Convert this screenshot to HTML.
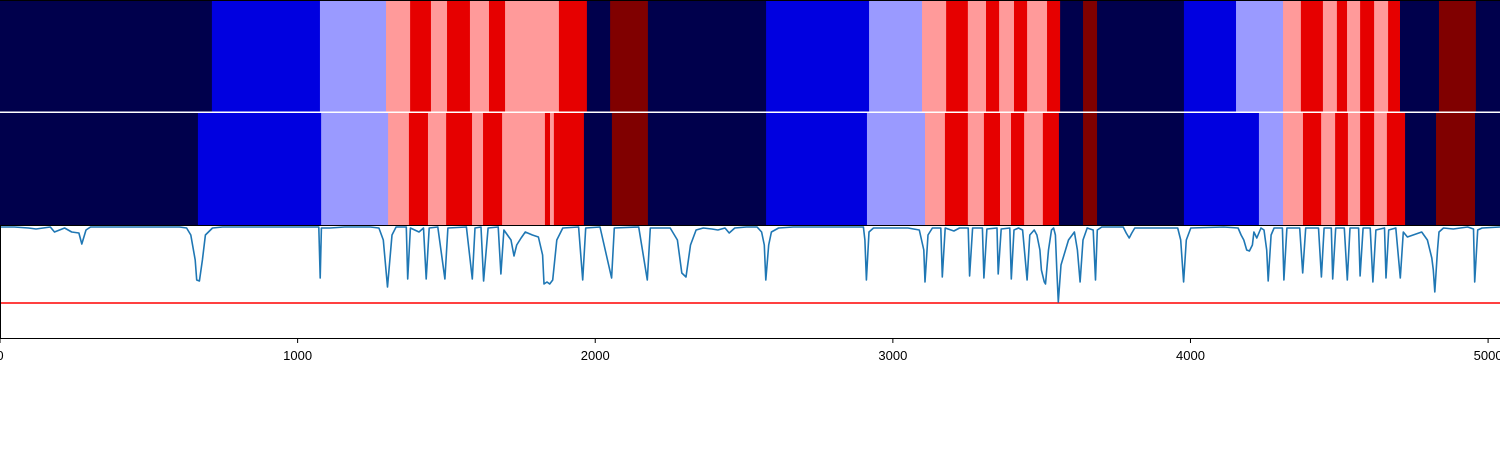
<!DOCTYPE html>
<html><head><meta charset="utf-8"><style>
html,body{margin:0;padding:0;background:#fff;}
svg{display:block;font-family:"Liberation Sans",sans-serif;}
</style></head><body>
<svg id="chart" width="1500" height="450" viewBox="0 0 1500 450" xmlns="http://www.w3.org/2000/svg"></svg>
<script>
// ---- data ----
const xTicks = [0, 1000, 2000, 3000, 4000, 5000];
const colorLabels = ["#00004c", "#0000e0", "#9a9aff", "#ff9a9a", "#e60000", "#800000"];
const topBounds = [0,712,1075,1297,1378,1448,1502,1579,1643,1697,1878,1972,2050,2177,2574,2920,3098,3179,3252,3313,3357,3407,3451,3518,3562,3639,3686,3978,4153,4311,4371,4445,4492,4526,4570,4617,4664,4704,4835,4959,5040];
const topLabels = [0,1,2,3,4,3,4,3,4,3,4,0,5,0,1,2,3,4,3,4,3,4,3,4,0,5,0,1,2,3,4,3,4,3,4,3,4,0,5,0];
const botBounds = [0,665,1079,1304,1374,1438,1499,1586,1623,1687,1831,1848,1861,1962,2056,2177,2574,2913,3108,3175,3252,3306,3360,3397,3441,3504,3558,3639,3686,3978,4230,4311,4378,4439,4486,4529,4570,4617,4660,4721,4825,4956,5040];
const botLabels = [0,1,2,3,4,3,4,3,4,3,4,3,4,0,5,0,1,2,3,4,3,4,3,4,3,4,0,5,0,1,2,3,4,3,4,3,4,3,4,0,5,0];
const signalX = [0,48,96,121,169,183,217,241,265,275,289,304,603,627,641,656,661,670,680,690,714,748,1071,1076,1080,1109,1158,1244,1273,1288,1302,1317,1331,1365,1370,1379,1408,1423,1432,1442,1471,1495,1505,1567,1587,1596,1616,1625,1640,1674,1683,1693,1717,1727,1736,1751,1765,1789,1809,1823,1828,1838,1847,1857,1871,1891,1944,1958,1968,2016,2055,2064,2146,2175,2185,2252,2276,2291,2305,2320,2339,2363,2392,2412,2436,2450,2469,2508,
2520,2544,2559,2568,2573,2583,2592,2616,2665,2901,2906,2911,2920,2935,3051,3089,3104,3108,3118,3133,3161,3166,3176,3205,3224,3253,3258,3268,3301,3306,3316,3350,3354,3364,3393,3398,3407,3422,3436,3451,3460,3475,3484,3494,3499,3509,3513,3523,3533,3540,3546,3551,3556,3565,3590,3610,3620,3629,3639,3653,3673,3681,3687,3702,3774,3784,3794,3803,3813,3957,3967,3977,3986,4001,4112,4160,4170,4179,4189,4198,4208,4213,4223,4237,4247,4256,4261,4271,4281,4309,4314,4324,4367,4377,4387,4430,4440,4449,4473,4478,4488,4517,4527,4536,4565,4570,4580,4604,4613,4623,4652,4657,4666,4690,4705,4715,4729,4748,4777,4796,4811,4816,4821,4830,4835,4850,4883,4907,4931,4951,4955,4965,4980,5040];
const signalY = [111,111,110,109,111,106,110,106,105,94,108,111,111,110,103,78,58,57,78,103,110,111,111,60,110,110,111,111,110,98,51,103,111,111,59,110,106,110,59,110,111,59,110,111,59,110,111,57,110,111,64,108,98,82,93,100,106,103,101,83,54,56,54,58,98,110,111,58,110,111,60,110,111,58,110,110,98,65,61,93,108,110,109,108,110,105,110,111,
111,111,106,93,58,93,106,110,111,111,98,58,106,110,110,108,88,56,103,110,110,61,110,107,110,110,62,110,110,60,109,110,64,109,110,59,108,110,108,58,103,108,103,88,68,56,54,88,108,110,103,68,36,73,98,106,88,56,98,110,108,58,108,111,111,105,100,105,110,110,98,56,98,110,111,110,103,98,88,87,93,106,100,110,108,88,57,103,110,110,58,110,110,65,110,110,61,110,110,59,110,110,58,110,110,62,110,110,56,108,110,60,108,110,60,106,101,103,106,98,80,68,46,88,106,110,109,110,111,109,56,108,110,111];
const thresholdValue = [35];

// ---- layout ----
const svg = document.getElementById('chart');
const NS = 'http://www.w3.org/2000/svg';
const X0 = 0, X1 = 1500, XMAX = 5040;
const xs = v => X0 + (v / XMAX) * (X1 - X0);
const LT = 226, LB = 338, YMAX = 112;
const ys = v => LB - (v / YMAX) * (LB - LT);
function mk(tag, attrs) { const e = document.createElementNS(NS, tag); for (const k in attrs) e.setAttribute(k, attrs[k]); svg.appendChild(e); return e; }

function drawRow(bounds, labels, y, h, name) {
  for (let i = 0; i < labels.length; i++) {
    const x1 = xs(bounds[i]), x2 = xs(bounds[i + 1]);
    const r = mk('rect', { x: x1, y: y, width: x2 - x1 + 0.5, height: h, fill: colorLabels[labels[i]] });
    
    
  }
}
drawRow(topBounds, topLabels, 0, 112, 'top-row');
drawRow(botBounds, botLabels, 113, 112, 'bottom-row');
const sep = mk('rect', { x: 0, y: 111.5, width: 1500, height: 1.5, fill: '#ffffff' });


const tb = mk('line', { x1: 0, y1: 0.5, x2: 1500, y2: 0.5, stroke: '#000', 'stroke-width': 1 });


const mb = mk('line', { x1: 0, y1: 225.5, x2: 1500, y2: 225.5, stroke: '#000', 'stroke-width': 1 });



// threshold line
const th = mk('line', { x1: 0, y1: ys(thresholdValue[0]), x2: 1500, y2: ys(thresholdValue[0]), stroke: '#ff0000', 'stroke-width': 1.5 });



// signal line
let d = '';
for (let i = 0; i < signalX.length; i++) d += (i ? 'L' : 'M') + xs(signalX[i]).toFixed(1) + ',' + ys(signalY[i]).toFixed(1);
const ln = mk('path', { d: d, fill: 'none', stroke: '#1f77b4', 'stroke-width': 1.6, 'stroke-linejoin': 'round' });



// frame of signal axes
const lf = mk('line', { x1: 0.5, y1: 226, x2: 0.5, y2: 338, stroke: '#000', 'stroke-width': 1 });


const bf = mk('line', { x1: 0, y1: 338.5, x2: 1500, y2: 338.5, stroke: '#000', 'stroke-width': 1 });



// ticks
xTicks.forEach(t => {
  const x = Math.min(xs(t), 1499.5);
  const tk = mk('line', { x1: x, y1: 339, x2: x, y2: 343, stroke: '#000', 'stroke-width': 1 });
  
  
  const tx = mk('text', { x: x, y: 360, 'font-size': 13, 'text-anchor': 'middle', fill: '#000' });
  tx.textContent = t;
  
  
});
</script>
</body></html>
